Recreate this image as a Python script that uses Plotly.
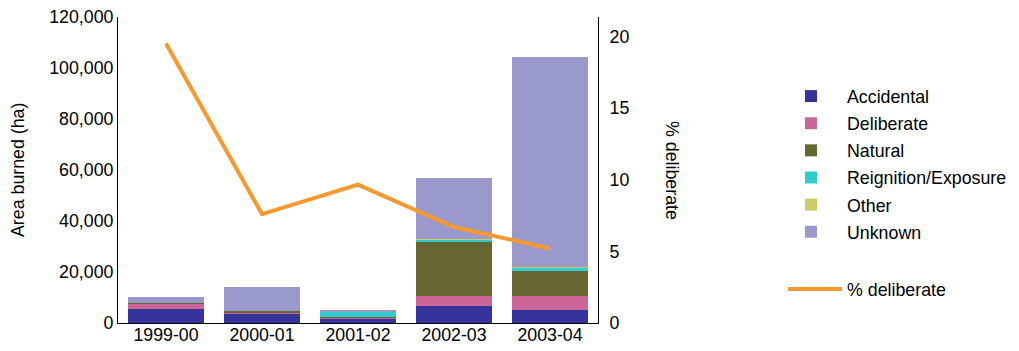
import plotly.graph_objects as go

years = ["1999-00", "2000-01", "2001-02", "2002-03", "2003-04"]
accidental = [5400, 3800, 1800, 6500, 5000]
deliberate = [2300, 500, 300, 3900, 5500]
natural = [150, 500, 400, 21200, 9800]
reignition = [50, 50, 2000, 1000, 1300]
other = [100, 50, 100, 300, 250]
unknown = [2300, 9100, 300, 24000, 82300]
pct_deliberate = [19.5, 7.6, 9.65, 6.7, 5.2]

series = [
    ("Accidental", accidental, "#333399"),
    ("Deliberate", deliberate, "#CC6699"),
    ("Natural", natural, "#666633"),
    ("Reignition/Exposure", reignition, "#33CCCC"),
    ("Other", other, "#CCCC66"),
    ("Unknown", unknown, "#9999CC"),
]

FONT = "Liberation Sans, Arial, sans-serif"
FS = 17.8
OFF = 8  # page body margin
W, H = 1019 - OFF, 351 - OFF
PLOT_L, PLOT_R, PLOT_T, PLOT_B = 118, 598, 17, 323  # target page pixels
L = PLOT_L - OFF
T = PLOT_T - OFF
R = W - (PLOT_R - OFF)
B = H - (PLOT_B - OFF)
PW = W - L - R
PH = H - T - B


def px_x(x):
    return (x - OFF - L) / PW


def px_y(y):
    return (H - B - (y - OFF)) / PH


fig = go.Figure()
for name, vals, col in series:
    fig.add_trace(go.Bar(x=years, y=vals, name=name, marker=dict(color=col, line=dict(width=0)),
                         legend="legend", legendgroup=name))

fig.add_trace(go.Scatter(x=years, y=pct_deliberate, name="% deliberate", mode="lines",
                         line=dict(color="#F7992F", width=4), yaxis="y2", legend="legend2"))

fig.update_layout(
    width=W, height=H,
    margin=dict(l=L, r=R, t=T, b=B, pad=0, autoexpand=False),
    paper_bgcolor="white", plot_bgcolor="white",
    barmode="stack", bargap=0.2,
    font=dict(family=FONT, size=FS, color="#000000"),
    showlegend=True,
    xaxis=dict(type="category", showline=True, linecolor="#000000", linewidth=1, ticks="",
               showgrid=False, tickfont=dict(size=FS), ticklabelstandoff=-4),
    yaxis=dict(range=[0, 120000], tickvals=[0, 20000, 40000, 60000, 80000, 100000, 120000],
               tickformat=",d", showline=True, linecolor="#000000", linewidth=1, showgrid=False,
               zeroline=False, ticks="", tickfont=dict(size=FS), ticklabeloverflow="allow"),
    yaxis2=dict(range=[0, 21.35], tickvals=[0, 5, 10, 15, 20], overlaying="y", side="right",
                showline=True, linecolor="#000000", linewidth=1, showgrid=False, zeroline=False,
                ticks="", tickfont=dict(size=FS), ticklabelstandoff=7,
                ticklabeloverflow="allow"),
    legend=dict(x=px_x(775), xanchor="left", y=px_y(78), yanchor="top", font=dict(size=FS),
                tracegroupgap=1, itemwidth=62, bgcolor="rgba(0,0,0,0)"),
    legend2=dict(x=px_x(783), xanchor="left", y=px_y(271), yanchor="top", font=dict(size=FS),
                 itemwidth=54, bgcolor="rgba(0,0,0,0)"),
    annotations=[
        dict(text="Area burned (ha)", x=px_x(18), xref="paper", y=px_y(170), yref="paper",
             textangle=-90, showarrow=False, font=dict(size=FS), xanchor="center",
             yanchor="middle"),
        dict(text="% deliberate", x=px_x(672), xref="paper", y=px_y(170), yref="paper",
             textangle=90, showarrow=False, font=dict(size=FS), xanchor="center",
             yanchor="middle"),
    ],
)

fig.write_html("out.html")
